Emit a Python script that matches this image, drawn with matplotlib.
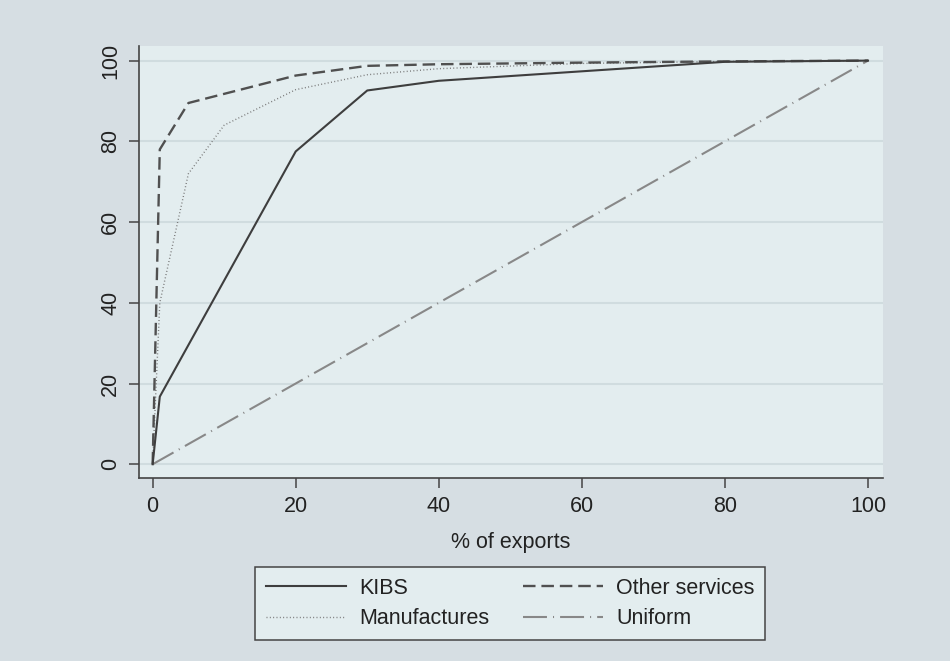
import matplotlib
matplotlib.use("Agg")
import matplotlib.pyplot as plt
from matplotlib.lines import Line2D

plt.rcParams['font.family'] = ['Liberation Sans', 'DejaVu Sans']

# Cumulative share curves (% of exports vs % cumulative)
kibs_x = [0, 1, 20, 30, 40, 80, 100]
kibs_y = [0, 16.75, 77.5, 92.6, 95.0, 99.7, 100]

manuf_x = [0, 1, 5, 10, 20, 30, 40, 60, 80, 100]
manuf_y = [0, 40, 72, 84, 92.8, 96.5, 98.0, 99.3, 99.8, 100]

other_x = [0, 1, 5, 20, 30, 40, 60, 80, 100]
other_y = [0, 78, 89.5, 96.3, 98.7, 99.1, 99.5, 99.8, 100]

uniform_x = [0, 100]
uniform_y = [0, 100]

x_ticks = [0, 20, 40, 60, 80, 100]
y_ticks = [0, 20, 40, 60, 80, 100]

outer_bg = '#d6dee3'
plot_bg = '#e3edef'
grid_c = '#d0dcdf'
fs = 15.5

styles = {
    'KIBS': dict(color='#3e3e3e', lw=1.5),
    'Manufactures': dict(color='#777777', lw=1.0, dashes=(0.7, 1.7)),
    'Other services': dict(color='#505050', lw=1.7, dashes=(5.3, 2.5)),
    'Uniform': dict(color='#888888', lw=1.5, dashes=(11.5, 2.9, 0.5, 2.9)),
}

fig = plt.figure(figsize=(9.5, 6.61), dpi=100, facecolor=outer_bg)
ax = fig.add_axes([0.1466, 0.2769, 0.9295 - 0.1466, 0.9309 - 0.2769])
ax.set_facecolor(plot_bg)

ax.plot(uniform_x, uniform_y, zorder=3, **styles['Uniform'])
ax.plot(manuf_x, manuf_y, zorder=4, **styles['Manufactures'])
ax.plot(other_x, other_y, zorder=5, **styles['Other services'])
ax.plot(kibs_x, kibs_y, zorder=6, **styles['KIBS'])

ax.set_xlim(-1.87, 102.1)
ax.set_ylim(-3.4, 103.7)
ax.set_xticks(x_ticks)
ax.set_yticks(y_ticks)
ax.yaxis.grid(True, color=grid_c, lw=1.5)
ax.set_axisbelow(True)

for s in ['top', 'right']:
    ax.spines[s].set_visible(False)
for s in ['left', 'bottom']:
    ax.spines[s].set_color('#444444')
    ax.spines[s].set_linewidth(1.2)

ax.tick_params(axis='both', direction='out', length=7, width=1.1,
               color='#444444', labelsize=fs, labelcolor='#222222', pad=6)
for lbl in ax.get_yticklabels():
    lbl.set_rotation(90)
    lbl.set_va('center')

ax.set_xlabel('% of exports', fontsize=fs, color='#222222', labelpad=11)

labels = ['KIBS', 'Manufactures', 'Other services', 'Uniform']
handles = [Line2D([], [], **styles[k]) for k in labels]
leg = fig.legend(handles, labels, ncol=2, loc='center',
                 bbox_to_anchor=(0.537, 0.087), fontsize=fs,
                 frameon=True, fancybox=False, edgecolor='#444444',
                 facecolor=plot_bg, framealpha=1, handlelength=3.72,
                 columnspacing=1.55, handletextpad=0.62, labelspacing=0.45,
                 borderpad=0.5, borderaxespad=0)
leg.get_frame().set_linewidth(1.1)
for t in leg.get_texts():
    t.set_color('#222222')

fig.savefig('out.png', dpi=100, facecolor=outer_bg)
